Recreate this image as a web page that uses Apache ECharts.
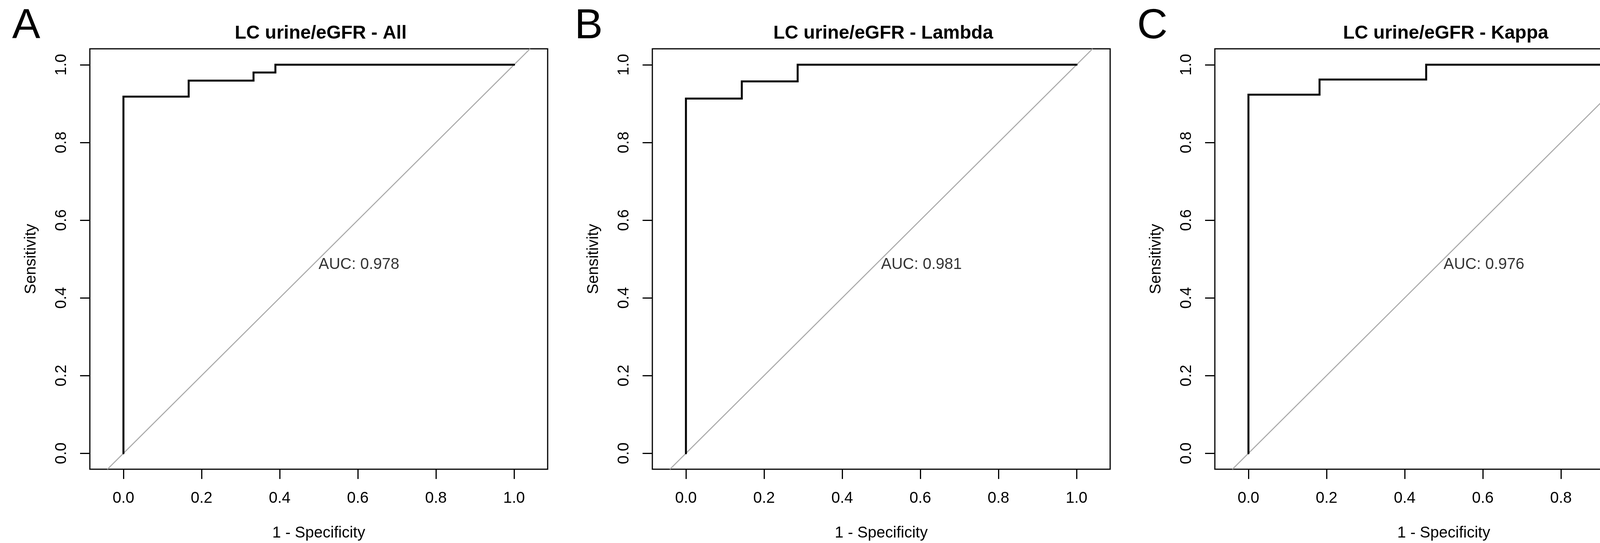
<!DOCTYPE html>
<html>
<head>
<meta charset="utf-8">
<script src="https://cdn.jsdelivr.net/npm/echarts@6/dist/echarts.min.js"></script>
<style>
  html, body { margin: 0; padding: 0; background: #fff; }
  #chart { width: 4305px; height: 1391px; }
</style>
</head>
<body>
<div id="chart"></div>
<script>
// ---- data ----
const panelLetters = ['A', 'B', 'C'];
const panelTitles = ['LC urine/eGFR - All', 'LC urine/eGFR - Lambda', 'LC urine/eGFR - Kappa'];
// ROC operating points (1 - specificity, sensitivity)
const fprAll    = [0, 0,     0.167, 0.333, 0.389, 1];
const tprAll    = [0, 0.918, 0.959, 0.980, 1,     1];
const fprLambda = [0, 0,     0.143, 0.286, 1];
const tprLambda = [0, 0.913, 0.957, 1,     1];
const fprKappa  = [0, 0,     0.182, 0.455, 1];
const tprKappa  = [0, 0.923, 0.962, 1,     1];
const aucValues = [0.978, 0.981, 0.976];
const tickValues = [0, 0.2, 0.4, 0.6, 0.8, 1.0];
const xLabel = '1 - Specificity';
const yLabel = 'Sensitivity';
const aucPos = [0.5, 0.5];

// ---- layout ----
const FONT = '"Liberation Sans", Arial, Helvetica, sans-serif';
const panelStep = 1440;
const gridLeft0 = 230, gridTop = 125, gridW = 1172, gridH = 1082;
const xMin = -0.086, xMax = 1.086, yMin = -0.041, yMax = 1.041;

const rocs = [[fprAll, tprAll], [fprLambda, tprLambda], [fprKappa, tprKappa]];

const grids = [], xAxes = [], yAxes = [], series = [], titles = [];
rocs.forEach(([fpr, tpr], i) => {
  const left = gridLeft0 + i * panelStep;
  grids.push({ left: left, top: gridTop, width: gridW, height: gridH,
    show: true, borderColor: '#000', borderWidth: 3, backgroundColor: 'transparent', containLabel: false });
  const common = {
    gridIndex: i, type: 'value',
    axisLine: { show: false, onZero: false },
    splitLine: { show: false },
    axisTick: { show: true, customValues: tickValues, length: 25, lineStyle: { color: '#000', width: 3 } },
    axisLabel: { show: true, customValues: tickValues, formatter: v => v.toFixed(1),
      color: '#000', fontFamily: FONT, fontSize: 40, lineHeight: 40 },
    nameLocation: 'middle',
    nameTextStyle: { color: '#000', fontFamily: FONT, fontSize: 40, lineHeight: 40 }
  };
  xAxes.push(Object.assign({}, common, {
    position: 'bottom',
    min: xMin, max: xMax, name: xLabel, nameGap: 144,
    axisLabel: Object.assign({}, common.axisLabel, { margin: 55 })
  }));
  yAxes.push(Object.assign({}, common, {
    position: 'left',
    min: yMin, max: yMax, name: yLabel, nameGap: 130, nameRotate: 90,
    axisLabel: Object.assign({}, common.axisLabel, { margin: 52, rotate: 90 })
  }));
  // identity (chance) line across the whole box
  series.push({
    type: 'line', xAxisIndex: i, yAxisIndex: i, silent: true, showSymbol: false, z: 1,
    data: [[yMin, yMin], [yMax, yMax]],
    lineStyle: { color: '#A9A9A9', width: 2.5 }
  });
  // ROC curve
  series.push({
    type: 'line', xAxisIndex: i, yAxisIndex: i, silent: true, showSymbol: false, z: 3,
    step: 'end',
    data: fpr.map((x, k) => [x, tpr[k]]),
    lineStyle: { color: '#000', width: 5, cap: 'round', join: 'miter' }
  });
  // AUC text
  series.push({
    type: 'scatter', xAxisIndex: i, yAxisIndex: i, silent: true, z: 4,
    symbolSize: 1, itemStyle: { color: 'rgba(0,0,0,0)' },
    data: [aucPos],
    label: { show: true, position: [0, -5], align: 'left', verticalAlign: 'top',
      formatter: 'AUC: ' + aucValues[i].toFixed(3),
      color: '#000', fontFamily: FONT, fontSize: 40, lineHeight: 40 }
  });
  titles.push({
    text: panelTitles[i], left: left + gridW / 2, top: 57, textAlign: 'center',
    textStyle: { color: '#000', fontFamily: FONT, fontSize: 48, fontWeight: 'bold', lineHeight: 48 }
  });
  titles.push({
    text: panelLetters[i], left: 26 + i * panelStep, top: 9,
    textStyle: { color: '#000', fontFamily: FONT, fontSize: 108, fontWeight: 'normal', lineHeight: 108 }
  });
});

const chart = echarts.init(document.getElementById('chart'), null, { renderer: 'canvas' });
chart.setOption({
  animation: false,
  backgroundColor: '#fff',
  title: titles,
  grid: grids,
  xAxis: xAxes,
  yAxis: yAxes,
  series: series
});
</script>
</body>
</html>
